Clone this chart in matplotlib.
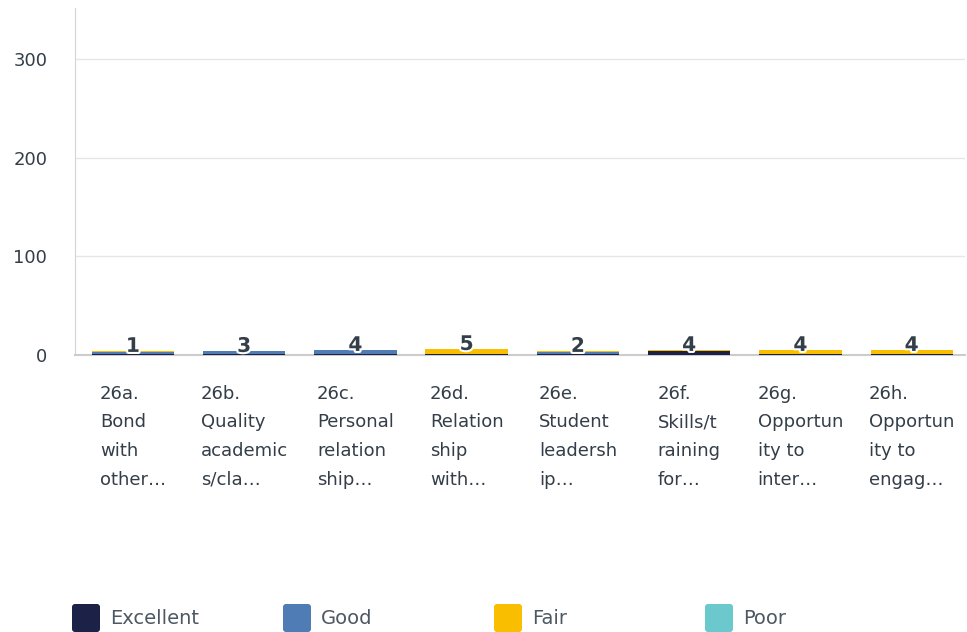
import matplotlib
matplotlib.use("Agg")
import matplotlib.pyplot as plt
import matplotlib.patheffects as pe
from matplotlib.patches import FancyBboxPatch
import numpy as np

plt.rcParams["font.family"] = ["DejaVu Sans"]

# Question labels, already wrapped the way the survey tool shows them
categories = [
    "26a.\nBond\nwith\nother…",
    "26b.\nQuality\nacademic\ns/cla…",
    "26c.\nPersonal\nrelation\nship…",
    "26d.\nRelation\nship\nwith…",
    "26e.\nStudent\nleadersh\nip…",
    "26f.\nSkills/t\nraining\nfor…",
    "26g.\nOpportun\nity to\ninter…",
    "26h.\nOpportun\nity to\nengag…",
]
series = ["Excellent", "Good", "Fair", "Poor"]
excellent = [1, 1, 1, 1, 1, 4, 1, 1]
good = [2, 3, 4, 0, 2, 0, 0, 0]
fair = [1, 0, 0, 5, 1, 1, 4, 4]
poor = [0, 0, 0, 0, 0, 0, 0, 0]
bar_labels = [1, 3, 4, 5, 2, 4, 4, 4]
yticks = [0, 100, 200, 300]

colors = ["#1b2147", "#507cb6", "#f9be00", "#6bc8cd"]
text_col = "#333e48"

fig = plt.figure(figsize=(9.67, 6.32), dpi=100)
ax = fig.add_axes([0.0776, 0.4383, 0.9204, 0.549])

x = np.arange(len(categories))
bottom = np.zeros(len(categories))
for name, vals, col in zip(series, [excellent, good, fair, poor], colors):
    ax.bar(x, vals, 0.74, bottom=bottom, color=col, label=name, zorder=3)
    bottom += np.array(vals)

for xi, top, lab in zip(x, bottom, bar_labels):
    ax.annotate(str(lab), xy=(xi, top), xytext=(0, -3.5), textcoords="offset points",
                ha="center", va="bottom", fontsize=14.5, fontweight="bold", color=text_col,
                zorder=5, path_effects=[pe.withStroke(linewidth=3, foreground="white")])

ax.set_xlim(-0.52, 7.48)
ax.set_ylim(0, 351.7)
ax.set_yticks(yticks)
ax.tick_params(axis="y", length=0, pad=20, labelsize=13, labelcolor=text_col)
ax.tick_params(axis="x", length=0)
ax.set_xticks(x)
ax.set_xticklabels([])
ax.grid(axis="y", color="#e6e6e6", linewidth=1, zorder=0)

for xi, cat in zip(x, categories):
    ax.text(xi, -30, cat, ha="center", va="top", multialignment="left",
            fontsize=13, color=text_col, linespacing=1.76)

ax.spines.right.set_visible(False)
ax.spines.top.set_visible(False)
ax.spines.left.set_color("#d4d4d4")
ax.spines.bottom.set_color("#cccccc")
ax.spines.bottom.set_linewidth(1.5)

# legend: rounded swatches along the bottom
for i, (name, col) in enumerate(zip(series, colors)):
    x0 = 0.72 + i * 2.11
    sw = FancyBboxPatch((x0 + 0.03, 0.03), 0.22, 0.22, boxstyle="round,pad=0.03",
                        transform=fig.dpi_scale_trans, facecolor=col, edgecolor="none")
    fig.patches.append(sw)
    fig.text((x0 + 0.38) / 9.67, 0.14 / 6.32, name, ha="left", va="center",
             fontsize=14, color="#4d5862")

fig.savefig("out.png", dpi=100)
